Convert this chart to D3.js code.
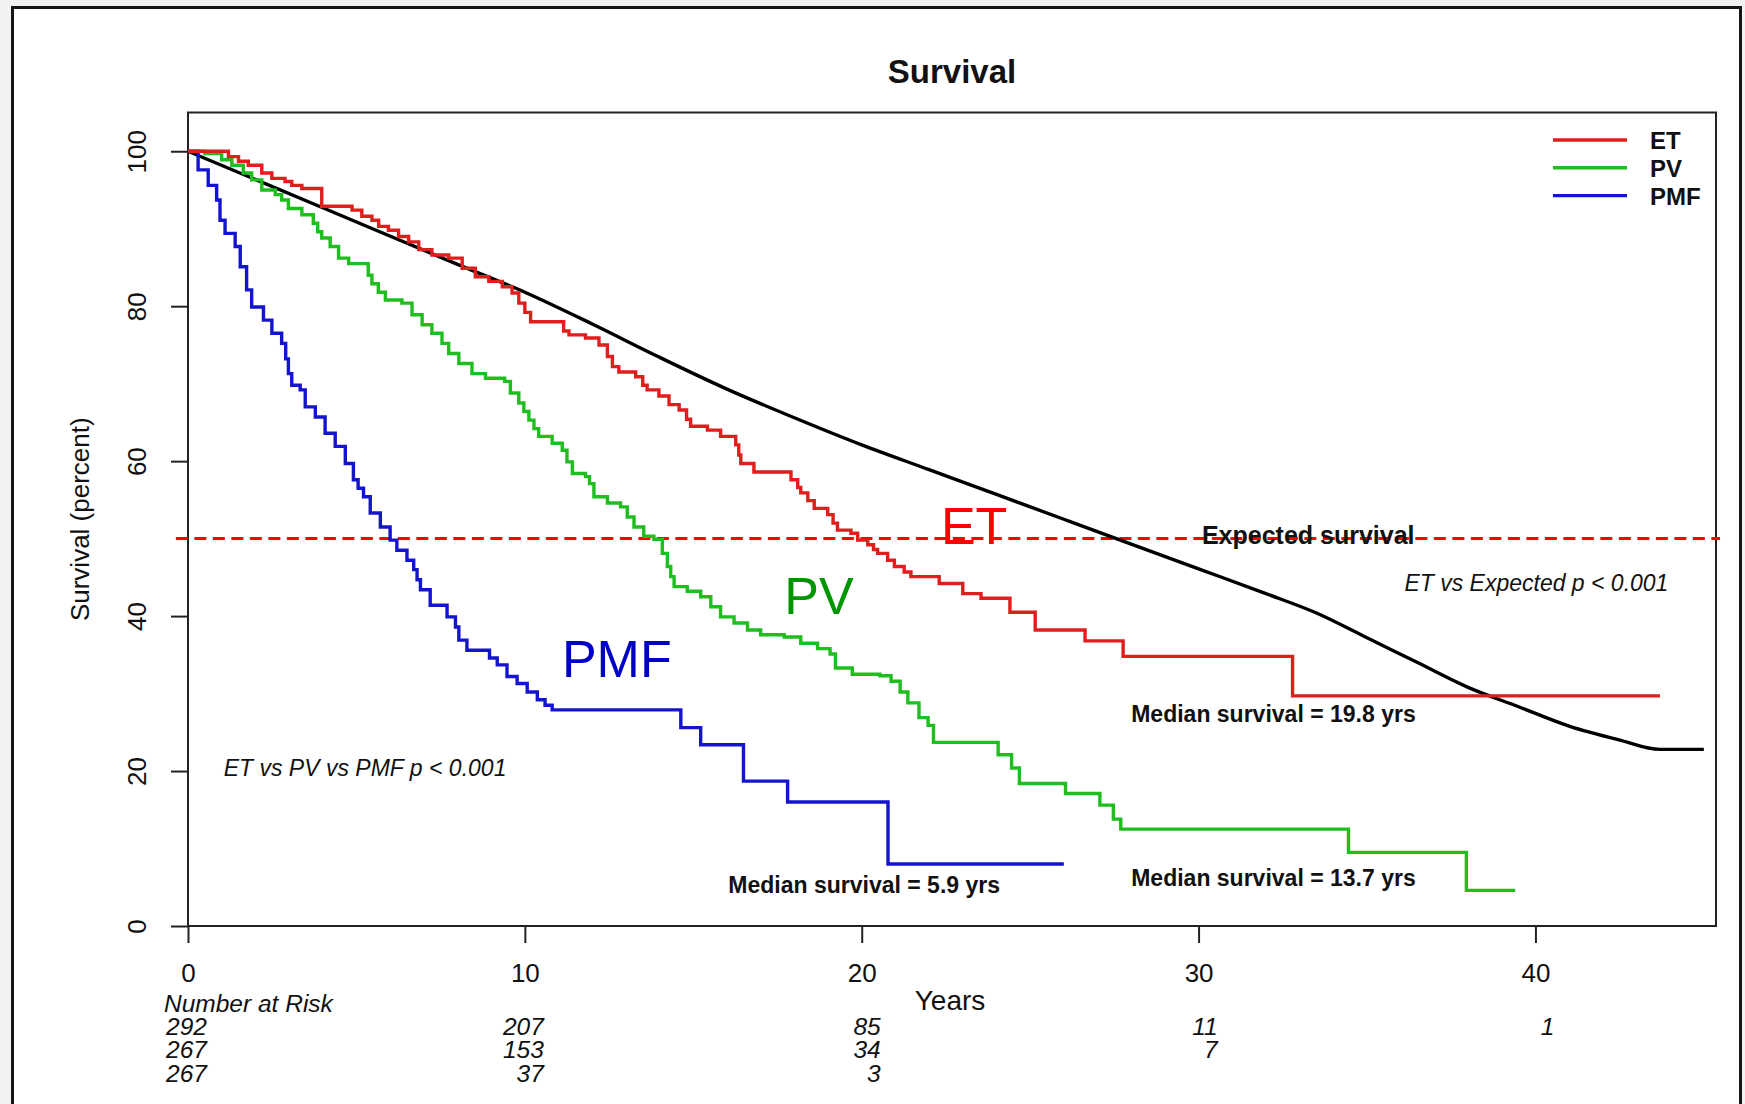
<!DOCTYPE html>
<html>
<head>
<meta charset="utf-8">
<script src="https://cdn.jsdelivr.net/npm/d3@7"></script>
<style>
  body { margin: 0; background: #f2f2f2; }
  svg { display: block; }
  text { font-family: "Liberation Sans", Arial, Helvetica, sans-serif; fill: #111; }
</style>
</head>
<body>
<div id="chart"></div>
<script>
"use strict";

// ---- data ----
const yearTicks = [0, 10, 20, 30, 40];
const percentTicks = [0, 20, 40, 60, 80, 100];

// Kaplan-Meier steps: [years, survival %] (value holds from that time on)
const etSteps = [
  [0, 100], [1.2, 99.3], [1.5, 98.7], [1.79, 98.2], [2.19, 97.2], [2.49, 96.5], [2.88, 96.1],
  [3.08, 95.6], [3.38, 95.2], [3.97, 92.9], [4.87, 92.4], [5.16, 91.6], [5.46, 91.1], [5.66, 90.3],
  [5.95, 89.8], [6.25, 89.0], [6.55, 88.3], [6.85, 87.3], [7.24, 86.6], [7.74, 86.2], [8.14, 84.9],
  [8.53, 83.8], [8.93, 83.2], [9.33, 82.5], [9.62, 81.7], [9.82, 80.4], [10.0, 79.2], [10.17, 78.0],
  [11.15, 76.8], [11.31, 76.3], [11.8, 75.9], [12.2, 75.0], [12.45, 73.5], [12.6, 72.2], [12.79, 71.5],
  [13.29, 70.9], [13.5, 69.8], [13.63, 69.2], [13.98, 68.4], [14.28, 67.3], [14.58, 66.6], [14.8, 65.4],
  [14.92, 64.5], [15.42, 64.0], [15.81, 63.2], [16.26, 62.1], [16.35, 60.8], [16.41, 59.7], [16.8, 58.6],
  [17.9, 57.6], [18.1, 56.6], [18.19, 55.9], [18.4, 54.9], [18.59, 53.9], [18.99, 53.1], [19.15, 52.0],
  [19.28, 51.1], [19.68, 50.7], [19.88, 49.8], [20.18, 49.2], [20.35, 48.6], [20.47, 48.1], [20.77, 47.2],
  [20.97, 46.4], [21.26, 45.7], [21.46, 45.1], [22.3, 44.2], [23.0, 42.9], [23.54, 42.3], [24.4, 40.5],
  [25.15, 38.2], [26.63, 36.8], [27.76, 34.8], [32.79, 29.7], [43.7, 29.7]
];

const pvSteps = [
  [0, 100], [0.5, 99.7], [1.0, 98.9], [1.3, 98.2], [1.64, 97.2], [1.89, 96.3], [2.19, 95.0],
  [2.59, 94.4], [2.78, 93.7], [2.98, 92.6], [3.38, 91.8], [3.72, 90.7], [3.85, 89.6], [3.97, 88.8],
  [4.22, 87.7], [4.47, 86.2], [4.77, 85.5], [5.35, 84.0], [5.46, 82.9], [5.65, 81.8], [5.86, 80.8],
  [6.35, 80.4], [6.65, 78.9], [6.95, 77.6], [7.24, 76.5], [7.54, 75.2], [7.74, 73.9], [8.04, 72.6],
  [8.43, 71.3], [8.83, 70.7], [9.4, 70.3], [9.57, 68.8], [9.82, 67.5], [9.97, 66.4], [10.12, 65.3],
  [10.27, 64.2], [10.41, 63.2], [10.81, 62.3], [11.11, 61.4], [11.25, 59.9], [11.41, 58.4], [11.8, 58.0],
  [11.92, 57.1], [12.05, 55.4], [12.45, 54.6], [12.84, 54.1], [13.04, 52.8], [13.24, 51.5], [13.53, 50.3],
  [13.83, 49.9], [14.08, 48.1], [14.23, 46.4], [14.33, 45.1], [14.43, 43.8], [14.82, 43.2], [15.22, 42.5],
  [15.52, 41.2], [15.81, 39.9], [16.21, 39.1], [16.61, 38.2], [17.0, 37.6], [17.7, 37.3], [18.19, 36.5],
  [18.69, 35.8], [19.06, 35.1], [19.22, 33.3], [19.72, 32.5], [20.54, 32.3], [20.87, 31.6], [21.14, 30.2],
  [21.37, 28.8], [21.7, 26.9], [21.97, 25.9], [22.13, 23.7], [24.05, 22.1], [24.45, 20.4], [24.68, 18.4],
  [26.05, 17.1], [27.07, 15.6], [27.47, 13.8], [27.69, 12.5], [34.45, 9.5], [37.95, 4.6], [39.4, 4.6]
];

const pmfSteps = [
  [0, 100], [0.3, 97.6], [0.6, 95.6], [0.85, 93.7], [0.95, 91.1], [1.1, 89.4], [1.4, 87.7],
  [1.55, 85.1], [1.74, 82.1], [1.89, 79.9], [2.24, 78.2], [2.49, 76.5], [2.78, 75.2], [2.9, 73.2],
  [2.98, 71.3], [3.08, 69.8], [3.33, 69.2], [3.48, 67.0], [3.78, 65.7], [4.07, 63.6], [4.37, 61.9],
  [4.67, 59.7], [4.91, 57.6], [5.05, 56.5], [5.21, 55.4], [5.41, 53.3], [5.71, 51.5], [6.0, 49.8],
  [6.2, 48.5], [6.5, 47.2], [6.7, 46.0], [6.8, 44.7], [6.9, 43.4], [7.19, 41.4], [7.69, 39.9],
  [7.94, 38.6], [8.04, 36.9], [8.28, 35.6], [8.95, 34.6], [9.18, 33.7], [9.47, 32.2], [9.77, 31.3],
  [10.07, 30.2], [10.37, 29.2], [10.6, 28.5], [10.81, 27.9], [14.63, 25.6], [15.22, 23.4],
  [16.49, 18.7], [17.8, 16.0], [20.78, 8.0], [26.0, 8.0]
];

// expected survival of the matched population (smooth)
const expectedCurve = [
  [0, 100], [4, 92.7], [8, 85.4], [10, 81.8], [12, 77.7], [14, 73.4], [16, 69.3], [18, 65.6],
  [20, 62.1], [22, 58.9], [24, 55.7], [26, 52.5], [28, 49.3], [30, 46.1], [32, 42.9], [33.5, 40.4],
  [35, 37.2], [36.5, 34.0], [38, 30.8], [39.5, 28.3], [41, 25.8], [42.5, 24.0], [43.7, 22.8], [45.0, 22.8]
];

const groups = ["ET", "PV", "PMF"];
const lineColors = { ET: "#e11d1d", PV: "#1fbe1f", PMF: "#1414cf" };
const labelColors = { ET: "#ff0000", PV: "#009600", PMF: "#0000c8" };

// number at risk under the axis, one row per group, at yearTicks
const atRiskET = [292, 207, 85, 11, 1];
const atRiskPV = [267, 153, 34, 7, null];
const atRiskPMF = [267, 37, 3, null, null];

// ---- layout ----
const width = 1745, height = 1104;
const svg = d3.select("#chart").append("svg")
  .attr("width", width)
  .attr("height", height);

// outer frame of the figure
svg.append("rect")
  .attr("x", 12.5).attr("y", 7.5)
  .attr("width", 1728).attr("height", 1120)
  .attr("fill", "#ffffff")
  .attr("stroke", "#151515")
  .attr("stroke-width", 3);

const x = d3.scaleLinear().domain([0, 45.36]).range([188, 1716]);
const y = d3.scaleLinear().domain([0, 105]).range([926, 112.5]);

// title
svg.append("text")
  .attr("x", (x.range()[0] + x.range()[1]) / 2)
  .attr("y", 83)
  .attr("text-anchor", "middle")
  .style("font-size", "33px")
  .style("font-weight", "bold")
  .text("Survival");

// axes
const xAxis = svg.append("g")
  .attr("transform", `translate(0,${y(0)})`)
  .call(d3.axisBottom(x).tickValues(yearTicks).tickSize(17).tickPadding(21));
xAxis.select(".domain").remove();
xAxis.selectAll("line").attr("stroke", "#222").attr("stroke-width", 2);
xAxis.selectAll("text").style("font-size", "26px").attr("fill", "#111");

const yAxis = svg.append("g")
  .attr("transform", `translate(${x(0)},0)`)
  .call(d3.axisLeft(y).tickValues(percentTicks).tickSize(17));
yAxis.select(".domain").remove();
yAxis.selectAll("line").attr("stroke", "#222").attr("stroke-width", 2);
yAxis.selectAll("text")
  .style("font-size", "26px")
  .attr("fill", "#111")
  .attr("transform", "rotate(-90)")
  .attr("x", 0)
  .attr("y", -42)
  .attr("dy", 0)
  .attr("text-anchor", "middle");

// plot box
svg.append("rect")
  .attr("x", x.range()[0]).attr("y", y.range()[1])
  .attr("width", x.range()[1] - x.range()[0])
  .attr("height", y.range()[0] - y.range()[1])
  .attr("fill", "none")
  .attr("stroke", "#222")
  .attr("stroke-width", 2);

// axis titles
svg.append("text")
  .attr("transform", `translate(89,${(y.range()[0] + y.range()[1]) / 2}) rotate(-90)`)
  .attr("text-anchor", "middle")
  .style("font-size", "26px")
  .text("Survival (percent)");

svg.append("text")
  .attr("x", 950).attr("y", 1010)
  .attr("text-anchor", "middle")
  .style("font-size", "28px")
  .text("Years");

// 50% reference line
svg.append("line")
  .attr("x1", x(-0.36)).attr("x2", x(45.48))
  .attr("y1", y(50)).attr("y2", y(50))
  .attr("stroke", "#ff0000")
  .attr("stroke-width", 3)
  .attr("stroke-dasharray", "12,6.5");

// curves
const stepLine = d3.line()
  .x(d => x(d[0]))
  .y(d => y(d[1]))
  .curve(d3.curveStepAfter);

const smoothLine = d3.line()
  .x(d => x(d[0]))
  .y(d => y(d[1]))
  .curve(d3.curveMonotoneX);

svg.append("path")
  .datum(expectedCurve)
  .attr("d", smoothLine)
  .attr("fill", "none")
  .attr("stroke", "#000")
  .attr("stroke-width", 3.4);

const steps = { ET: etSteps, PV: pvSteps, PMF: pmfSteps };
groups.slice().reverse().forEach(g => {
  svg.append("path")
    .datum(steps[g])
    .attr("d", stepLine)
    .attr("fill", "none")
    .attr("stroke", lineColors[g])
    .attr("stroke-width", 3.4)
    .attr("stroke-linejoin", "miter");
});

// big group labels in the plot
const bigLabels = [
  { g: "ET", t: 22.35, v: 49.3 },
  { g: "PV", t: 17.7, v: 40.3 },
  { g: "PMF", t: 11.1, v: 32.2 }
];
svg.selectAll(".biglabel")
  .data(bigLabels)
  .enter().append("text")
  .attr("class", "biglabel")
  .attr("x", d => x(d.t))
  .attr("y", d => y(d.v))
  .style("font-size", "52px")
  .style("fill", d => labelColors[d.g])
  .text(d => d.g);

// annotations
const notes = [
  { text: "Expected survival", t: 30.1, v: 49.3, weight: "bold", style: "normal", size: 25 },
  { text: "ET vs Expected p < 0.001", t: 36.11, v: 43.2, weight: "normal", style: "italic", size: 23 },
  { text: "Median survival = 19.8 yrs", t: 28.0, v: 26.3, weight: "bold", style: "normal", size: 23 },
  { text: "Median survival = 13.7 yrs", t: 28.0, v: 5.2, weight: "bold", style: "normal", size: 23 },
  { text: "Median survival = 5.9 yrs", t: 16.04, v: 4.3, weight: "bold", style: "normal", size: 23 },
  { text: "ET vs PV vs PMF p < 0.001", t: 1.06, v: 19.3, weight: "normal", style: "italic", size: 23 }
];
svg.selectAll(".note")
  .data(notes)
  .enter().append("text")
  .attr("class", "note")
  .attr("x", d => x(d.t))
  .attr("y", d => y(d.v))
  .style("font-size", d => d.size + "px")
  .style("font-weight", d => d.weight)
  .style("font-style", d => d.style)
  .text(d => d.text);

// legend
const legend = svg.append("g").attr("transform", "translate(1553,140)");
groups.forEach((g, i) => {
  legend.append("line")
    .attr("x1", 0).attr("x2", 74)
    .attr("y1", i * 27.8).attr("y2", i * 27.8)
    .attr("stroke", lineColors[g])
    .attr("stroke-width", 3.4);
  legend.append("text")
    .attr("x", 97).attr("y", i * 27.8 + 9)
    .style("font-size", "24px")
    .style("font-weight", "bold")
    .text(g);
});

// number at risk table
svg.append("text")
  .attr("x", 164).attr("y", 1011.5)
  .style("font-size", "24.5px")
  .style("font-style", "italic")
  .text("Number at Risk");

[atRiskET, atRiskPV, atRiskPMF].forEach((row, r) => {
  svg.selectAll(".risk" + r)
    .data(row.map((n, i) => ({ n: n, t: yearTicks[i] })).filter(d => d.n !== null))
    .enter().append("text")
    .attr("x", d => x(d.t) + 19)
    .attr("y", 1035 + r * 23.3)
    .attr("text-anchor", "end")
    .style("font-size", "24.5px")
    .style("font-style", "italic")
    .text(d => d.n);
});
</script>
</body>
</html>
